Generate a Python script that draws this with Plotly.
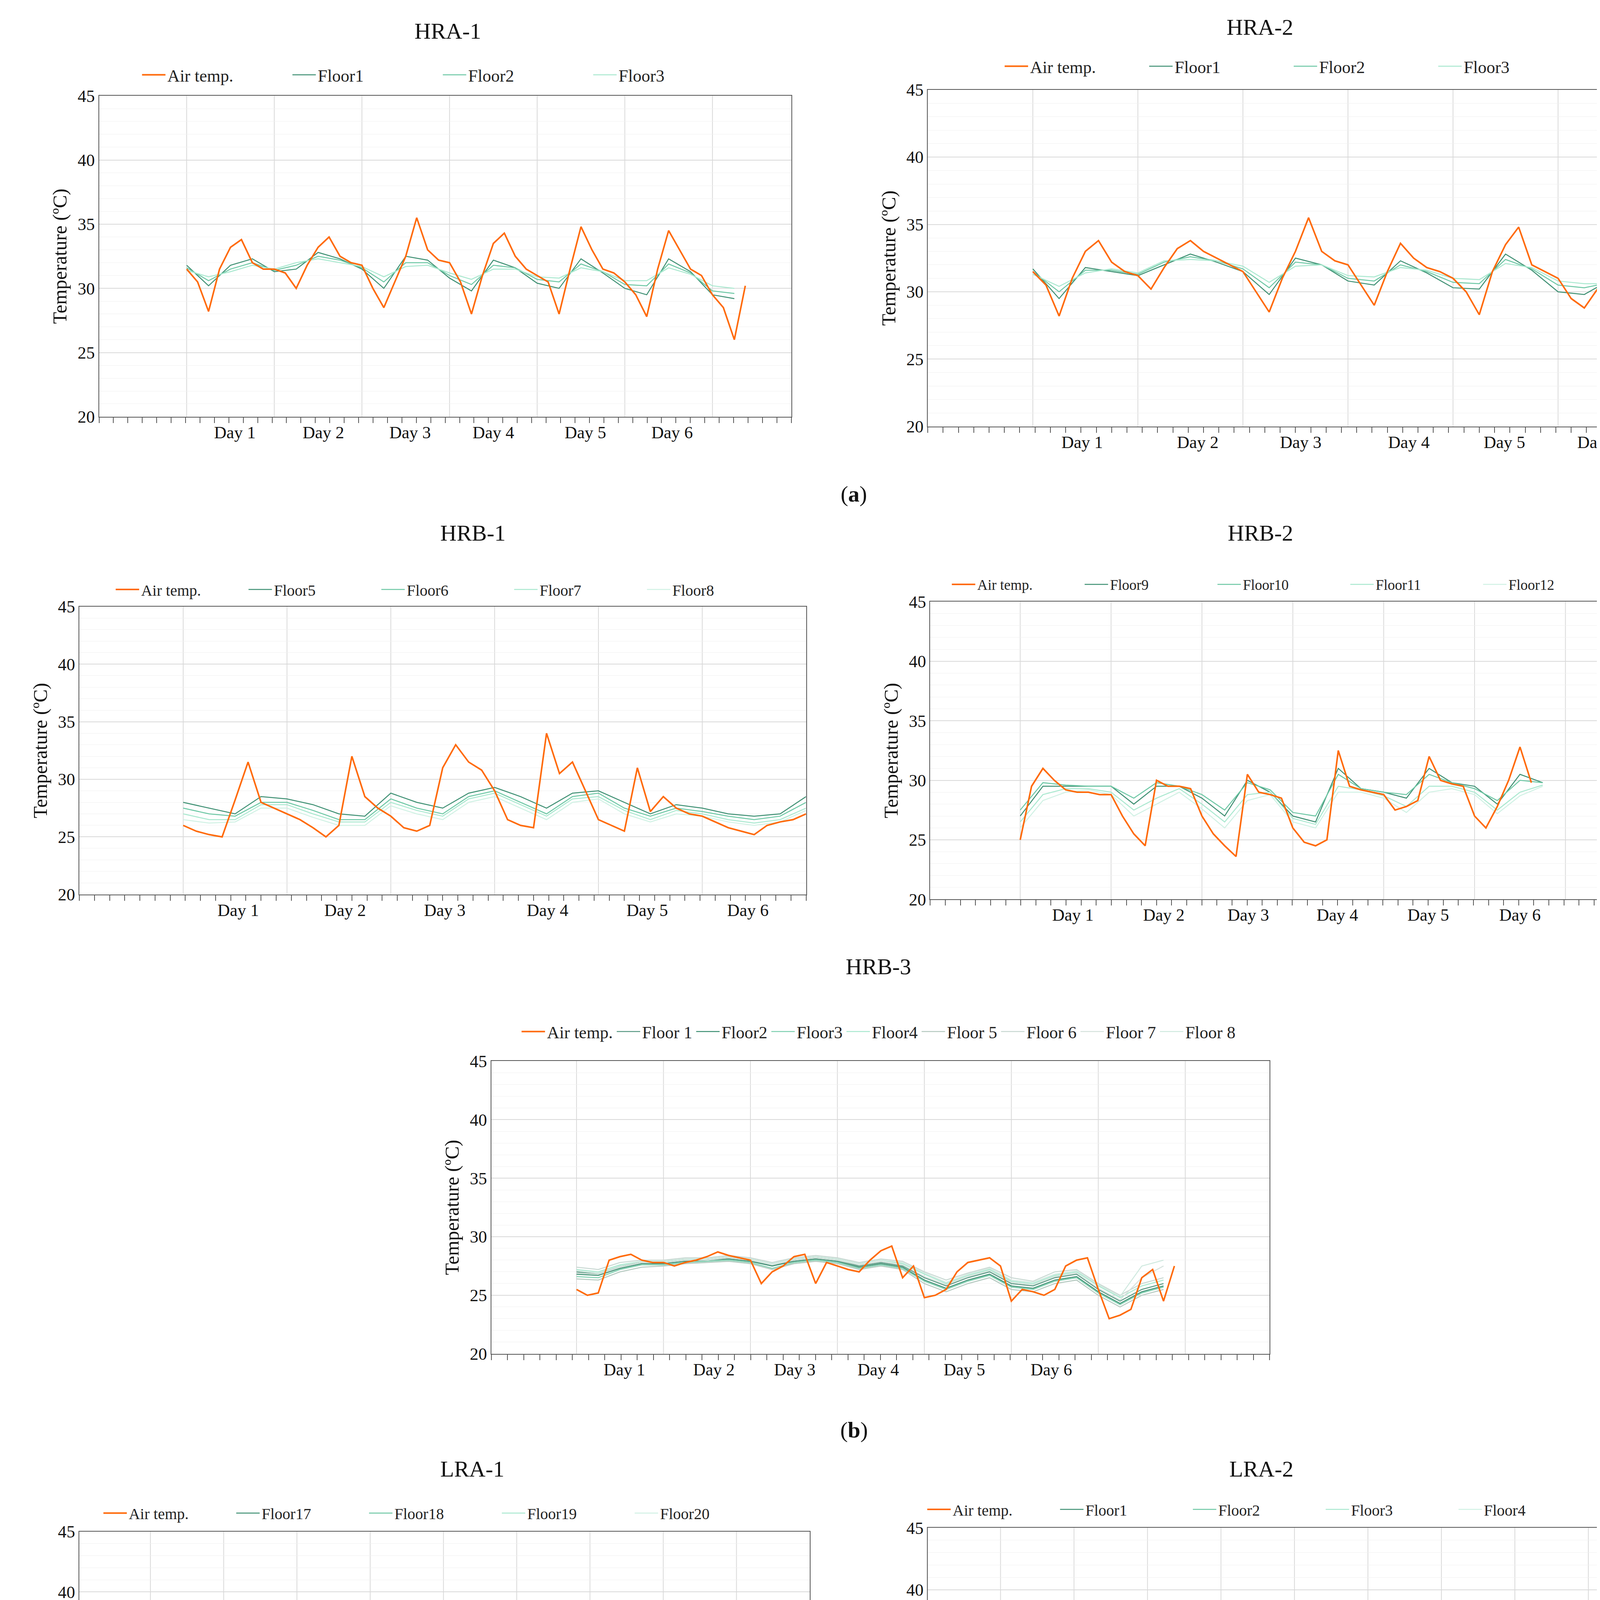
#!/usr/bin/env python3
"""
Indoor / outdoor temperature panels (HRA, HRB, LRA buildings)
"""

import plotly.graph_objects as go

W, H = 4281, 4941
SW, SH = 1360.0, 1560.0   # sketch coordinates the layout was measured in

ORANGE = "#ff6a0a"
GREENS = ["#3d8f72", "#6cc7a4", "#a9e8cf", "#d0f1e4"]
GREENS8 = ["#5a9a84", "#3d8f72", "#7fd0b0", "#a9e8cf", "#b5c9c0", "#c8d8d2", "#d6e2dd", "#cfe9df"]
FONT = "Liberation Serif"

panels = [
    {
        "title": "HRA-1", "box": (78, 641, 68, 330), "title_xy": (334, 15), "leg_y": 51,
        "xr": (-1.0, 6.9), "step_air": 0.125, "step_fl": 0.25,
        "days": [0.55, 1.56, 2.55, 3.5, 4.55, 5.54], "ngrid": 7,
        "air": [31.5, 30.5, 28.2, 31.5, 33.2, 33.8, 32.0, 31.5,
                31.5, 31.2, 30.0, 31.8, 33.2, 34.0, 32.5, 32.0,
                31.8, 30.0, 28.5, 30.5, 32.5, 35.5, 33.0, 32.2,
                32.0, 30.5, 28.0, 31.0, 33.5, 34.3, 32.5, 31.5,
                31.0, 30.5, 28.0, 31.5, 34.8, 33.0, 31.5, 31.2,
                30.5, 29.5, 27.8, 31.5, 34.5, 33.0, 31.5, 31.0,
                29.5, 28.5, 26.0, 30.2],
        "floors": {
            "Floor1": [31.8, 30.2, 31.8, 32.3, 31.3, 31.5, 32.8, 32.3, 31.5, 30.0, 32.5, 32.2, 30.8,
                       29.8, 32.2, 31.6, 30.4, 30.0, 32.3, 31.2, 30.0, 29.5, 32.3, 31.3, 29.5, 29.2],
            "Floor2": [31.6, 30.6, 31.5, 32.0, 31.4, 31.8, 32.5, 32.2, 31.6, 30.5, 32.0, 32.0, 31.0,
                       30.3, 31.8, 31.6, 30.7, 30.5, 31.9, 31.3, 30.3, 30.2, 31.9, 31.2, 29.8, 29.6],
            "Floor3": [31.4, 30.9, 31.3, 31.8, 31.5, 32.0, 32.3, 32.0, 31.7, 30.9, 31.7, 31.8, 31.2,
                       30.7, 31.5, 31.5, 30.9, 30.8, 31.6, 31.3, 30.6, 30.6, 31.6, 31.1, 30.2, 30.0],
        },
        "leg_font": 44, "leg_w": 310, "leg_x": 356,
    },
    {
        "title": "HRA-2", "box": (752, 1350, 63, 338), "title_xy": (1050, 12), "leg_y": 44,
        "xr": (-1.0, 6.0), "step_air": 0.125, "step_fl": 0.25,
        "days": [0.47, 1.57, 2.55, 3.58, 4.49, 5.38], "ngrid": 6,
        "air": [31.5, 30.5, 28.2, 31.0, 33.0, 33.8, 32.2, 31.5,
                31.2, 30.2, 31.8, 33.2, 33.8, 33.0, 32.5, 32.0,
                31.5, 30.0, 28.5, 31.0, 33.0, 35.5, 33.0, 32.3,
                32.0, 30.5, 29.0, 31.5, 33.6, 32.5, 31.8, 31.5,
                31.0, 30.0, 28.3, 31.5, 33.5, 34.8, 32.0, 31.5,
                31.0, 29.5, 28.8, 30.2, 31.3],
        "floors": {
            "Floor1": [31.7, 29.5, 31.8, 31.5, 31.2, 32.0, 32.8, 32.2, 31.5, 29.8, 32.5, 32.0,
                       30.8, 30.5, 32.3, 31.4, 30.3, 30.2, 32.8, 31.6, 30.0, 29.8, 30.9],
            "Floor2": [31.5, 30.0, 31.6, 31.6, 31.3, 32.2, 32.6, 32.3, 31.7, 30.3, 32.2, 32.0,
                       31.0, 30.8, 32.0, 31.5, 30.7, 30.6, 32.4, 31.7, 30.5, 30.3, 30.7],
            "Floor3": [31.3, 30.4, 31.4, 31.7, 31.4, 32.3, 32.4, 32.3, 31.9, 30.7, 31.9, 32.0,
                       31.2, 31.1, 31.8, 31.6, 31.0, 30.9, 32.1, 31.8, 30.8, 30.6, 30.6],
        },
        "leg_font": 44, "leg_w": 295, "leg_x": 1048,
    },
    {
        "title": "HRB-1", "box": (62, 653, 485, 720), "title_xy": (355, 425), "leg_y": 471,
        "xr": (-1.0, 6.0), "step_air": 0.125, "step_fl": 0.25,
        "days": [0.53, 1.56, 2.52, 3.51, 4.47, 5.44], "ngrid": 6,
        "air": [26.0, 25.5, 25.2, 25.0, 28.2, 31.5, 28.0, 27.5,
                27.0, 26.5, 25.8, 25.0, 26.0, 32.0, 28.5, 27.5,
                26.8, 25.8, 25.5, 26.0, 31.0, 33.0, 31.5, 30.8,
                29.0, 26.5, 26.0, 25.8, 34.0, 30.5, 31.5, 29.0,
                26.5, 26.0, 25.5, 31.0, 27.2, 28.5, 27.5, 27.0,
                26.8, 26.3, 25.8, 25.5, 25.2, 26.0, 26.3, 26.5,
                27.0],
        "floors": {
            "Floor5": [28.0, 27.5, 27.0, 28.5, 28.3, 27.8, 27.0, 26.8, 28.8, 28.0, 27.5, 28.8, 29.3,
                       28.5, 27.5, 28.8, 29.0, 28.0, 27.0, 27.8, 27.5, 27.0, 26.8, 27.0, 28.5],
            "Floor6": [27.5, 27.0, 26.8, 28.0, 28.0, 27.3, 26.5, 26.5, 28.3, 27.5, 27.0, 28.5, 29.0,
                       28.0, 27.0, 28.5, 28.8, 27.5, 26.8, 27.5, 27.2, 26.8, 26.5, 26.8, 28.0],
            "Floor7": [27.0, 26.5, 26.5, 27.8, 27.8, 27.0, 26.3, 26.3, 28.0, 27.3, 26.8, 28.3, 28.8,
                       27.8, 26.8, 28.3, 28.5, 27.3, 26.5, 27.3, 27.0, 26.5, 26.2, 26.5, 27.5],
            "Floor8": [26.5, 26.2, 26.3, 27.5, 27.5, 26.7, 26.0, 26.0, 27.7, 27.0, 26.5, 28.0, 28.5,
                       27.5, 26.5, 28.0, 28.3, 27.0, 26.3, 27.0, 26.8, 26.3, 26.0, 26.3, 27.3],
        },
        "leg_font": 40, "leg_w": 265, "leg_x": 360,
    },
    {
        "title": "HRB-2", "box": (754, 1343, 481, 724), "title_xy": (1050, 425), "leg_y": 467,
        "xr": (-0.99, 6.98), "step_air": 0.125, "step_fl": 0.25,
        "days": [0.58, 1.58, 2.51, 3.49, 4.49, 5.5], "ngrid": 7,
        "air": [25.0, 29.5, 31.0, 30.0, 29.2, 29.0, 29.0, 28.8,
                28.8, 27.0, 25.5, 24.5, 30.0, 29.5, 29.5, 29.3,
                27.0, 25.5, 24.5, 23.6, 30.5, 29.0, 28.8, 28.5,
                26.0, 24.8, 24.5, 25.0, 32.5, 29.5, 29.2, 29.0,
                28.8, 27.5, 27.8, 28.3, 32.0, 30.0, 29.7, 29.5,
                27.0, 26.0, 27.8, 30.0, 32.8, 29.8],
        "floors": {
            "Floor9": [27.0, 29.5, 29.5, 29.5, 29.5, 28.0, 29.5, 29.5, 28.5, 27.0, 30.0, 29.0,
                       27.0, 26.5, 31.0, 29.3, 29.0, 28.5, 31.0, 29.8, 29.5, 28.0, 30.5, 29.8],
            "Floor10": [27.5, 29.8, 29.6, 29.5, 29.5, 28.5, 29.8, 29.5, 28.8, 27.5, 29.8, 29.2,
                        27.3, 27.0, 30.5, 29.3, 29.0, 28.8, 30.5, 29.8, 29.3, 28.3, 30.0, 29.8],
            "Floor11": [26.5, 28.8, 29.3, 29.3, 29.0, 27.5, 28.5, 29.3, 28.0, 26.5, 28.8, 29.0,
                        26.8, 26.3, 29.5, 29.2, 28.7, 27.8, 29.5, 29.5, 29.0, 27.5, 29.0, 29.6],
            "Floor12": [26.0, 28.3, 29.0, 29.2, 28.8, 27.0, 28.0, 29.0, 27.6, 26.0, 28.3, 28.8,
                        26.5, 26.0, 29.0, 29.0, 28.5, 27.3, 29.0, 29.3, 28.8, 27.2, 28.7, 29.5],
        },
        "leg_font": 37, "leg_w": 265, "leg_x": 1040,
    },
    {
        "title": "HRB-3", "box": (397, 1030, 856, 1095), "title_xy": (712, 779), "leg_y": 832,
        "xr": (-0.98, 7.97), "step_air": 0.125, "step_fl": 0.25,
        "days": [0.55, 1.58, 2.51, 3.47, 4.46, 5.46], "ngrid": 8,
        "air": [25.5, 25.0, 25.2, 28.0, 28.3, 28.5, 28.0, 27.8,
                27.8, 27.5, 27.8, 28.0, 28.3, 28.7, 28.4, 28.2,
                28.0, 26.0, 27.0, 27.5, 28.3, 28.5, 26.0, 27.8,
                27.5, 27.2, 27.0, 28.0, 28.8, 29.2, 26.5, 27.5,
                24.8, 25.0, 25.5, 27.0, 27.8, 28.0, 28.2, 27.5,
                24.5, 25.5, 25.3, 25.0, 25.5, 27.5, 28.0, 28.2,
                25.5, 23.0, 23.3, 23.8, 26.5, 27.2, 24.5, 27.5],
        "floors": {
            "Floor 1": [27.0, 26.8, 27.5, 27.8, 27.8, 28.0, 28.0, 28.2, 28.0, 27.5, 28.0, 28.2, 28.0, 27.5,
                        27.8, 27.5, 26.5, 25.8, 26.5, 27.0, 26.0, 25.8, 26.5, 26.8, 25.5, 24.5, 25.5, 26.0],
            "Floor2": [26.8, 26.7, 27.3, 27.7, 27.7, 27.9, 28.0, 28.1, 27.9, 27.5, 27.9, 28.1, 27.9, 27.4,
                       27.7, 27.4, 26.3, 25.6, 26.3, 26.8, 25.8, 25.6, 26.3, 26.6, 25.3, 24.3, 25.3, 25.8],
            "Floor3": [26.6, 26.5, 27.2, 27.6, 27.6, 27.8, 27.9, 28.0, 27.8, 27.3, 27.8, 28.0, 27.8, 27.3,
                       27.6, 27.3, 26.2, 25.5, 26.2, 26.7, 25.7, 25.5, 26.2, 26.5, 25.2, 24.2, 25.2, 25.7],
            "Floor4": [27.2, 27.0, 27.6, 27.9, 27.9, 28.1, 28.1, 28.3, 28.1, 27.7, 28.1, 28.3, 28.1, 27.7,
                       28.0, 27.7, 26.8, 26.0, 26.7, 27.2, 26.2, 26.0, 26.7, 27.0, 25.8, 24.8, 25.8, 26.3],
            "Floor 5": [26.4, 26.3, 27.0, 27.4, 27.5, 27.7, 27.8, 27.9, 27.7, 27.2, 27.7, 27.9, 27.7, 27.2,
                        27.5, 27.2, 26.0, 25.3, 26.0, 26.5, 25.5, 25.3, 26.0, 26.3, 25.0, 24.0, 25.0, 25.5],
            "Floor 6": [27.4, 27.2, 27.8, 28.0, 28.0, 28.2, 28.2, 28.4, 28.2, 27.8, 28.2, 28.4, 28.2, 27.8,
                        28.1, 27.9, 27.0, 26.3, 26.9, 27.4, 26.5, 26.2, 27.0, 27.2, 26.0, 25.0, 26.0, 26.5],
            "Floor 7": [26.9, 26.8, 27.4, 27.8, 27.8, 28.0, 28.0, 28.2, 28.0, 27.6, 28.0, 28.2, 28.0, 27.6,
                        27.9, 27.6, 26.6, 25.9, 26.6, 27.1, 26.1, 25.9, 26.6, 26.9, 25.6, 24.6, 26.5, 27.5],
            "Floor 8": [27.1, 26.9, 27.5, 27.9, 27.9, 28.1, 28.1, 28.3, 28.1, 27.7, 28.1, 28.3, 28.1, 27.7,
                        28.0, 27.8, 26.9, 26.1, 26.8, 27.3, 26.3, 26.1, 26.8, 27.1, 25.9, 24.9, 27.5, 28.0],
        },
        "leg_font": 44, "leg_w": 0, "leg_x": 712,
    },
    {
        "title": "LRA-1", "box": (62, 656, 1240, 1487), "title_xy": (355, 1189), "leg_y": 1225,
        "xr": (-0.97, 9.0), "step_air": 0.25, "step_fl": 0.25,
        "days": [1.54, 2.55, 3.57, 4.51, 5.5, 6.49], "ngrid": 9,
        "air": [29.2, 28.2, 29.3, 29.5, 28.8, 27.6, 29.0, 29.3, 29.2, 28.0, 29.5, 29.6,
                28.8, 28.6, 30.0, 29.6, 28.6, 28.3, 29.9, 29.3, 28.8, 28.6, 29.8, 29.2,
                28.8, 28.3, 29.7, 29.2, 28.4, 28.0, 29.8, 30.0, 29.0, 28.3],
        "floors": {
            "Floor17": [28.8, 28.0, 28.8, 29.2, 28.8, 27.8, 28.6, 29.0, 29.0, 28.2, 29.0, 29.5,
                        28.8, 28.5, 29.5, 29.3, 28.8, 28.5, 29.3, 29.0, 28.8, 28.5, 29.3, 29.0,
                        28.7, 28.3, 29.3, 29.5, 28.8, 28.3, 29.2, 29.5, 29.0, 28.5],
            "Floor18": [28.5, 27.8, 28.5, 28.8, 28.5, 27.7, 28.3, 28.7, 28.7, 28.0, 28.7, 29.0,
                        28.6, 28.3, 29.0, 29.0, 28.6, 28.3, 29.0, 28.8, 28.6, 28.3, 29.0, 28.8,
                        28.5, 28.1, 29.0, 29.2, 28.6, 28.1, 28.9, 29.2, 28.7, 28.4],
            "Floor19": [28.3, 27.6, 28.2, 28.5, 28.3, 27.6, 28.0, 28.5, 28.5, 27.9, 28.4, 28.8,
                        28.4, 28.2, 28.7, 28.8, 28.4, 28.1, 28.7, 28.6, 28.4, 28.1, 28.7, 28.6,
                        28.3, 28.0, 28.7, 28.9, 28.4, 28.0, 28.6, 28.9, 28.5, 28.2],
            "Floor20": [28.0, 27.8, 27.9, 28.0, 28.0, 27.7, 27.8, 28.0, 28.0, 27.8, 28.0, 28.1,
                        28.0, 27.8, 28.1, 28.1, 28.0, 27.8, 28.0, 28.1, 28.0, 27.8, 28.1, 28.1,
                        28.0, 27.7, 28.0, 28.2, 28.0, 27.7, 28.0, 28.1, 28.0, 27.8],
        },
        "leg_font": 40, "leg_w": 265, "leg_x": 350,
    },
    {
        "title": "LRA-2", "box": (752, 1343, 1237, 1490), "title_xy": (1050, 1189), "leg_y": 1222,
        "xr": (-0.99, 8.9), "step_air": 0.25, "step_fl": 0.25,
        "days": [1.54, 2.57, 3.57, 4.53, 5.5, 6.49], "ngrid": 9,
        "air": [28.2, 27.3, 29.3, 28.8, 28.4, 27.2, 28.8, 28.6, 28.4, 27.2, 29.2, 28.8,
                28.3, 27.8, 29.3, 29.2, 28.8, 27.9, 29.3, 28.9, 28.5, 28.7, 29.0, 28.8,
                27.3, 28.6, 28.3, 27.8, 27.6, 28.8, 29.2, 28.5, 28.0, 27.5],
        "floors": {
            "Floor1": [29.5, 28.5, 29.0, 28.5, 29.2, 28.2, 28.2, 28.0, 30.0, 28.5, 28.3, 28.5,
                       30.3, 28.8, 28.8, 29.0, 30.2, 28.8, 28.8, 29.0, 31.0, 29.0, 29.0, 29.0,
                       30.5, 29.0, 30.5, 29.0, 29.3, 28.8, 28.8, 30.5, 29.0, 31.0],
            "Floor2": [28.5, 28.0, 28.3, 28.0, 28.3, 28.0, 27.8, 27.8, 28.5, 28.2, 28.0, 28.3,
                       28.8, 28.5, 28.5, 28.8, 29.0, 28.6, 28.5, 28.8, 29.5, 28.8, 28.8, 28.9,
                       29.5, 28.8, 29.0, 28.8, 28.8, 28.5, 28.5, 29.0, 28.6, 29.5],
            "Floor3": [28.0, 27.8, 28.0, 27.9, 28.0, 27.8, 27.9, 27.8, 28.2, 28.0, 28.1, 28.2,
                       28.5, 28.3, 28.3, 28.6, 28.7, 28.5, 28.5, 28.6, 29.0, 28.7, 28.6, 28.8,
                       29.2, 28.7, 28.8, 28.7, 28.6, 28.4, 28.5, 28.7, 28.5, 28.8],
            "Floor4": [28.2, 27.9, 28.1, 28.0, 28.1, 27.9, 28.0, 27.9, 28.3, 28.1, 28.2, 28.3,
                       28.6, 28.4, 28.4, 28.7, 28.8, 28.6, 28.6, 28.7, 29.2, 28.8, 28.7, 28.9,
                       29.3, 28.8, 28.9, 28.8, 28.7, 28.5, 28.6, 28.8, 28.6, 29.0],
        },
        "leg_font": 40, "leg_w": 265, "leg_x": 1020,
    },
]


def px_x(v):
    return v / SW


def px_y(v):
    return 1 - v / SH


fig = go.Figure()
layout = {}
shapes = []
annotations = []

for i, p in enumerate(panels):
    n = i + 1
    sfx = "" if n == 1 else str(n)
    xa, ya = "x" + sfx, "y" + sfx
    leg = "legend" + sfx
    x0, x1, y0, y1 = p["box"]

    # floors first so the air line sits on top; legendrank keeps "Air temp." first
    pal = GREENS8 if len(p["floors"]) > 4 else GREENS
    for j, (name, vals) in enumerate(p["floors"].items()):
        t = [k * p["step_fl"] for k in range(len(vals))]
        fig.add_trace(go.Scatter(x=t, y=vals, name=name, mode="lines", legendrank=10 + j,
                                 line=dict(color=pal[j], width=2.5), xaxis=xa, yaxis=ya, legend=leg))
    t_air = [k * p["step_air"] for k in range(len(p["air"]))]
    fig.add_trace(go.Scatter(x=t_air, y=p["air"], name="Air temp.", mode="lines", legendrank=1,
                             line=dict(color=ORANGE, width=4), xaxis=xa, yaxis=ya, legend=leg))

    layout["xaxis" + sfx] = dict(
        domain=[px_x(x0), px_x(x1)], anchor=ya, range=list(p["xr"]),
        tickvals=p["days"], ticktext=[f"Day {d}" for d in range(1, 7)],
        ticks="", showgrid=False, zeroline=False,
        showline=True, mirror=True, linecolor="#555", linewidth=2,
        tickfont=dict(family=FONT, size=44, color="#111"),
        minor=dict(tickmode="linear", tick0=p["xr"][0], dtick=(p["xr"][1] - p["xr"][0]) / 48,
                   ticks="outside", ticklen=14, tickwidth=2, tickcolor="#555", showgrid=False),
    )
    layout["yaxis" + sfx] = dict(
        domain=[px_y(y1), px_y(y0)], anchor=xa, range=[20, 45], dtick=5,
        showgrid=True, gridcolor="#d9d9d9", gridwidth=2, zeroline=False,
        showline=True, mirror=True, linecolor="#555", linewidth=2, ticks="",
        tickfont=dict(family=FONT, size=44, color="#111"),
        minor=dict(dtick=1, showgrid=True, gridcolor="#f0f0f0", gridwidth=1),
        title=dict(text="Temperature (ºC)", font=dict(family=FONT, size=50, color="#111"), standoff=12),
    )
    for g in range(p["ngrid"]):
        shapes.append(dict(type="line", xref=xa, yref=ya + " domain", x0=g, x1=g, y0=0, y1=1,
                           line=dict(color="#d9d9d9", width=2), layer="below"))
    leg_cfg = dict(
        orientation="h", x=px_x(p["leg_x"]), xanchor="center",
        y=px_y(p["leg_y"]), yanchor="middle", bgcolor="rgba(0,0,0,0)",
        font=dict(family=FONT, size=p["leg_font"], color="#222"),
        itemwidth=60, traceorder="normal",
    )
    if p["leg_w"]:
        leg_cfg["entrywidth"] = p["leg_w"]
    layout[leg] = leg_cfg
    tx, ty = p["title_xy"]
    annotations.append(dict(text=p["title"], x=px_x(tx), y=px_y(ty),
                            xref="paper", yref="paper", showarrow=False, yanchor="middle",
                            font=dict(family=FONT, size=58, color="#111")))

for lab, yy in [("a", 393), ("b", 1157), ("c", 1546)]:
    annotations.append(dict(text=f"(<b>{lab}</b>)", x=px_x(692), y=px_y(yy), xref="paper", yref="paper",
                            showarrow=False, yanchor="middle", font=dict(family=FONT, size=58, color="#111")))

fig.update_layout(
    width=W, height=H, margin=dict(l=0, r=0, t=0, b=0),
    plot_bgcolor="white", paper_bgcolor="white",
    shapes=shapes, annotations=annotations, **layout,
)

fig.write_html("out.html")
